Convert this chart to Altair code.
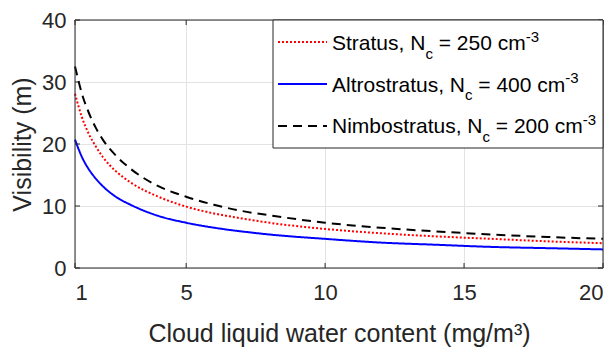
import altair as alt
import pandas as pd

# ---- data ----
lwc = [1, 1.25, 1.5, 1.75, 2, 2.5, 3, 4, 5, 6, 7, 8, 10, 12, 14, 16, 18, 20]
stratus = [28.1, 24.3, 21.6, 19.6, 17.9, 15.5, 13.8, 11.5, 9.9, 8.8, 8.0, 7.3, 6.3, 5.6, 5.1, 4.7, 4.3, 4.0]
altrostratus = [20.7, 17.9, 15.9, 14.4, 13.2, 11.4, 10.2, 8.4, 7.3, 6.5, 5.9, 5.4, 4.7, 4.1, 3.75, 3.4, 3.2, 3.0]
nimbostratus = [32.5, 28.1, 25.0, 22.6, 20.7, 18.0, 16.0, 13.2, 11.5, 10.2, 9.2, 8.5, 7.3, 6.5, 5.9, 5.4, 5.0, 4.7]
series_names = ["Stratus", "Altrostratus", "Nimbostratus"]
x_ticks = [1, 5, 10, 15, 20]
y_ticks = [0, 10, 20, 30, 40]

rows = []
for name, vals in zip(series_names, [stratus, altrostratus, nimbostratus]):
    for x, v in zip(lwc, vals):
        rows.append({"lwc": x, "vis": v, "series": name})
df = pd.DataFrame(rows)

W, H = 528, 248
FONT = "Liberation Sans"
AX = "#262626"
colors = ["#ff0000", "#0000ff", "#000000"]
dashes = [[2, 2], [1, 0], [9, 6]]

xs = alt.Scale(domain=[1, 20], nice=False, zero=False)
ys = alt.Scale(domain=[0, 40], nice=False)

lines = alt.Chart(df).mark_line(strokeWidth=2, interpolate="monotone").encode(
    x=alt.X("lwc:Q", scale=xs,
            axis=alt.Axis(values=x_ticks, title="Cloud liquid water content (mg/m³)",
                          titleY=73, titleBaseline="alphabetic")),
    y=alt.Y("vis:Q", scale=ys,
            axis=alt.Axis(values=y_ticks, title="Visibility (m)",
                          titleX=-45, titleBaseline="alphabetic")),
    color=alt.Color("series:N", scale=alt.Scale(domain=series_names, range=colors), legend=None),
    strokeDash=alt.StrokeDash("series:N", scale=alt.Scale(domain=series_names, range=dashes), legend=None),
)

xt = pd.DataFrame({"t": x_ticks})
yt = pd.DataFrame({"t": y_ticks})
tick_bottom = alt.Chart(xt).mark_rule(color=AX, strokeWidth=1).encode(
    x=alt.X("t:Q", scale=xs), y=alt.value(H), y2=alt.value(H - 5))
tick_top = alt.Chart(xt).mark_rule(color=AX, strokeWidth=1).encode(
    x=alt.X("t:Q", scale=xs), y=alt.value(0), y2=alt.value(5))
tick_left = alt.Chart(yt).mark_rule(color=AX, strokeWidth=1).encode(
    y=alt.Y("t:Q", scale=ys), x=alt.value(0), x2=alt.value(5))
tick_right = alt.Chart(yt).mark_rule(color=AX, strokeWidth=1).encode(
    y=alt.Y("t:Q", scale=ys), x=alt.value(W), x2=alt.value(W - 5))

one = pd.DataFrame({"a": [0]})
border = [
    alt.Chart(one).mark_rule(color=AX, strokeWidth=1).encode(x=alt.value(0), x2=alt.value(W), y=alt.value(0)),
    alt.Chart(one).mark_rule(color=AX, strokeWidth=1).encode(x=alt.value(0), x2=alt.value(W), y=alt.value(H)),
    alt.Chart(one).mark_rule(color=AX, strokeWidth=1).encode(x=alt.value(0), y=alt.value(0), y2=alt.value(H)),
    alt.Chart(one).mark_rule(color=AX, strokeWidth=1).encode(x=alt.value(W), y=alt.value(0), y2=alt.value(H)),
]

# ---- legend (manual, to allow sub/superscripts) ----
legend_layers = [
    alt.Chart(one).mark_rect(fill="white", stroke=AX, strokeWidth=1).encode(
        x=alt.value(198), x2=alt.value(W), y=alt.value(0), y2=alt.value(128))
]
row_line_y = [22, 64, 106]
row_base_y = [30, 71.5, 113]
main_txt = ["Stratus, N", "Altrostratus, N", "Nimbostratus, N"]
rest_txt = ["= 250 cm", "= 400 cm", "= 200 cm"]
main_w = [93.4, 133.0, 150.5]
rest_w = 87.0
sub_w = 7.5
space_w = 5.8
x0 = 257
for i in range(3):
    legend_layers.append(
        alt.Chart(one).mark_rule(color=colors[i], strokeWidth=2, strokeDash=dashes[i]).encode(
            x=alt.value(203), x2=alt.value(252), y=alt.value(row_line_y[i])))
    xa = x0 + main_w[i]
    xb = xa + sub_w + space_w
    xc = xb + rest_w
    pieces = [
        (main_txt[i], x0, row_base_y[i], 21),
        ("c", xa, row_base_y[i] + 8.5, 15),
        (rest_txt[i], xb, row_base_y[i], 21),
        ("-3", xc, row_base_y[i] - 8.5, 15),
    ]
    for t, px, py, fs in pieces:
        legend_layers.append(
            alt.Chart(one).mark_text(align="left", baseline="alphabetic", font=FONT,
                                     fontSize=fs, color="#000000").encode(
                x=alt.value(px), y=alt.value(py), text=alt.value(t)))

chart = alt.layer(
    lines, tick_bottom, tick_top, tick_left, tick_right, *border, *legend_layers
).properties(
    width=W, height=H,
    autosize=alt.AutoSizeParams(type="none"),
    padding={"left": 75, "top": 20, "right": 13, "bottom": 79},
).configure_view(stroke=None).configure_axis(
    domain=False, ticks=False, tickSize=0, grid=True, gridColor="#e3e3e3", gridWidth=1,
    labelFont=FONT, labelFontSize=22, labelColor=AX,
    titleFont=FONT, titleFontSize=25, titleColor=AX, titleFontWeight="normal",
).configure_axisX(labelPadding=31, labelBaseline="alphabetic"
).configure_axisY(labelPadding=9)

chart.save("out.html", embed_options={"renderer": "svg", "actions": False})
